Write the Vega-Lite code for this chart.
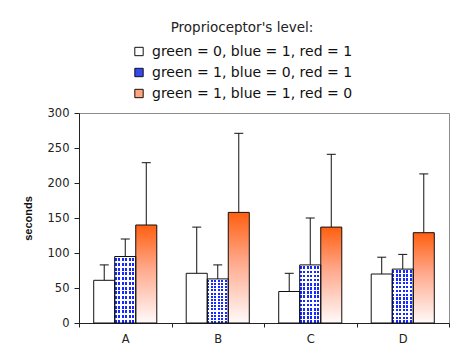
{
  "$schema": "https://vega.github.io/schema/vega-lite/v6.json",
  "width": 370,
  "height": 210,
  "autosize": "none",
  "padding": {"left": 79, "top": 113, "right": 6, "bottom": 21},
  "background": "white",
  "config": {
    "font": "DejaVu Sans",
    "view": {"stroke": "#8c8c8c", "strokeWidth": 1},
    "axis": {"domainColor": "#222222", "tickColor": "#222222", "labelColor": "#222222", "grid": false, "labelFont": "DejaVu Sans", "labelFontSize": 11.5},
    "axisY": {"tickCount": 6, "labelOverlap": false, "tickSize": 5, "labelPadding": 5,
              "titleFont": "Liberation Sans", "titleFontWeight": "bold", "titleFontSize": 11, "titlePadding": 14, "titleColor": "#111111"},
    "legend": {
      "orient": "none", "legendX": 53, "legendY": -92,
      "titleAnchor": "middle", "titleFont": "DejaVu Sans", "titleFontSize": 13.5, "titleFontWeight": "normal", "titleColor": "#222222", "titlePadding": 10,
      "labelFont": "DejaVu Sans", "labelFontSize": 14, "labelColor": "#111111", "labelLimit": 300, "labelOffset": 6,
      "symbolType": "square", "symbolSize": 70, "symbolStrokeColor": "#111111", "symbolStrokeWidth": 1, "symbolOpacity": 1,
      "rowPadding": 7, "padding": 0
    }
  },
  "data": {
    "values": [
      {"group": "A", "series": "green = 0, blue = 1, red = 1", "mean": 61, "upper": 83},
      {"group": "A", "series": "green = 1, blue = 0, red = 1", "mean": 95, "upper": 120},
      {"group": "A", "series": "green = 1, blue = 1, red = 0", "mean": 140, "upper": 229},
      {"group": "B", "series": "green = 0, blue = 1, red = 1", "mean": 71, "upper": 137},
      {"group": "B", "series": "green = 1, blue = 0, red = 1", "mean": 63, "upper": 83},
      {"group": "B", "series": "green = 1, blue = 1, red = 0", "mean": 158, "upper": 271},
      {"group": "C", "series": "green = 0, blue = 1, red = 1", "mean": 45, "upper": 71},
      {"group": "C", "series": "green = 1, blue = 0, red = 1", "mean": 83, "upper": 150},
      {"group": "C", "series": "green = 1, blue = 1, red = 0", "mean": 137, "upper": 241},
      {"group": "D", "series": "green = 0, blue = 1, red = 1", "mean": 70, "upper": 94},
      {"group": "D", "series": "green = 1, blue = 0, red = 1", "mean": 77, "upper": 98},
      {"group": "D", "series": "green = 1, blue = 1, red = 0", "mean": 129, "upper": 213}
    ]
  },
  "encoding": {
    "x": {"field": "group", "type": "nominal", "scale": {"paddingInner": 0, "paddingOuter": 0},
          "axis": {"title": null, "labelAngle": 0, "tickBand": "extent", "tickSize": 4, "labelPadding": 6}},
    "xOffset": {"field": "series", "type": "nominal",
                "scale": {"domain": ["green = 0, blue = 1, red = 1", "green = 1, blue = 0, red = 1", "green = 1, blue = 1, red = 0"], "paddingInner": 0, "paddingOuter": 0.7}}
  },
  "layer": [
    {
      "mark": {"type": "bar"},
      "encoding": {
        "y": {"field": "mean", "type": "quantitative", "title": "seconds",
              "scale": {"domain": [0, 300], "nice": false}},
        "fill": {"field": "series", "type": "nominal", "title": "Proprioceptor's level:",
                 "scale": {"domain": ["green = 0, blue = 1, red = 1", "green = 1, blue = 0, red = 1", "green = 1, blue = 1, red = 0"],
                           "range": ["#ffffff", "#3447f0", "#ffa47c"]}}
      }
    },
    {
      "transform": [{"filter": "datum.series === 'green = 1, blue = 0, red = 1'"}],
      "mark": {"type": "bar", "fill": {"gradient": "linear", "x1": 0, "y1": 0, "x2": 1, "y2": 0, "stops": [
        {"offset": 0, "color": "#1428ff"}, {"offset": 0.1, "color": "#1428ff"}, {"offset": 0.1, "color": "#ffffff"}, {"offset": 0.1667, "color": "#ffffff"},
        {"offset": 0.1667, "color": "#1428ff"}, {"offset": 0.2667, "color": "#1428ff"}, {"offset": 0.2667, "color": "#ffffff"}, {"offset": 0.3333, "color": "#ffffff"},
        {"offset": 0.3333, "color": "#1428ff"}, {"offset": 0.4333, "color": "#1428ff"}, {"offset": 0.4333, "color": "#ffffff"}, {"offset": 0.5, "color": "#ffffff"},
        {"offset": 0.5, "color": "#1428ff"}, {"offset": 0.6, "color": "#1428ff"}, {"offset": 0.6, "color": "#ffffff"}, {"offset": 0.6667, "color": "#ffffff"},
        {"offset": 0.6667, "color": "#1428ff"}, {"offset": 0.7667, "color": "#1428ff"}, {"offset": 0.7667, "color": "#ffffff"}, {"offset": 0.8333, "color": "#ffffff"},
        {"offset": 0.8333, "color": "#1428ff"}, {"offset": 0.9333, "color": "#1428ff"}, {"offset": 0.9333, "color": "#ffffff"}, {"offset": 1, "color": "#ffffff"}
      ]}},
      "encoding": {"y": {"field": "mean", "type": "quantitative", "title": "seconds"}}
    },
    {
      "transform": [{"filter": "datum.series === 'green = 1, blue = 0, red = 1'"}],
      "mark": {"type": "bar", "fill": {"gradient": "linear", "x1": 0, "y1": 0, "x2": 0, "y2": 1, "stops": [
        {"offset": 0, "color": "rgba(255,255,255,1)"}, {"offset": 0.025, "color": "rgba(255,255,255,1)"}, {"offset": 0.025, "color": "rgba(255,255,255,0)"}, {"offset": 0.0714, "color": "rgba(255,255,255,0)"},
        {"offset": 0.0714, "color": "rgba(255,255,255,1)"}, {"offset": 0.0964, "color": "rgba(255,255,255,1)"}, {"offset": 0.0964, "color": "rgba(255,255,255,0)"}, {"offset": 0.1429, "color": "rgba(255,255,255,0)"},
        {"offset": 0.1429, "color": "rgba(255,255,255,1)"}, {"offset": 0.1679, "color": "rgba(255,255,255,1)"}, {"offset": 0.1679, "color": "rgba(255,255,255,0)"}, {"offset": 0.2143, "color": "rgba(255,255,255,0)"},
        {"offset": 0.2143, "color": "rgba(255,255,255,1)"}, {"offset": 0.2393, "color": "rgba(255,255,255,1)"}, {"offset": 0.2393, "color": "rgba(255,255,255,0)"}, {"offset": 0.2857, "color": "rgba(255,255,255,0)"},
        {"offset": 0.2857, "color": "rgba(255,255,255,1)"}, {"offset": 0.3107, "color": "rgba(255,255,255,1)"}, {"offset": 0.3107, "color": "rgba(255,255,255,0)"}, {"offset": 0.3571, "color": "rgba(255,255,255,0)"},
        {"offset": 0.3571, "color": "rgba(255,255,255,1)"}, {"offset": 0.3821, "color": "rgba(255,255,255,1)"}, {"offset": 0.3821, "color": "rgba(255,255,255,0)"}, {"offset": 0.4286, "color": "rgba(255,255,255,0)"},
        {"offset": 0.4286, "color": "rgba(255,255,255,1)"}, {"offset": 0.4536, "color": "rgba(255,255,255,1)"}, {"offset": 0.4536, "color": "rgba(255,255,255,0)"}, {"offset": 0.5, "color": "rgba(255,255,255,0)"},
        {"offset": 0.5, "color": "rgba(255,255,255,1)"}, {"offset": 0.525, "color": "rgba(255,255,255,1)"}, {"offset": 0.525, "color": "rgba(255,255,255,0)"}, {"offset": 0.5714, "color": "rgba(255,255,255,0)"},
        {"offset": 0.5714, "color": "rgba(255,255,255,1)"}, {"offset": 0.5964, "color": "rgba(255,255,255,1)"}, {"offset": 0.5964, "color": "rgba(255,255,255,0)"}, {"offset": 0.6429, "color": "rgba(255,255,255,0)"},
        {"offset": 0.6429, "color": "rgba(255,255,255,1)"}, {"offset": 0.6679, "color": "rgba(255,255,255,1)"}, {"offset": 0.6679, "color": "rgba(255,255,255,0)"}, {"offset": 0.7143, "color": "rgba(255,255,255,0)"},
        {"offset": 0.7143, "color": "rgba(255,255,255,1)"}, {"offset": 0.7393, "color": "rgba(255,255,255,1)"}, {"offset": 0.7393, "color": "rgba(255,255,255,0)"}, {"offset": 0.7857, "color": "rgba(255,255,255,0)"},
        {"offset": 0.7857, "color": "rgba(255,255,255,1)"}, {"offset": 0.8107, "color": "rgba(255,255,255,1)"}, {"offset": 0.8107, "color": "rgba(255,255,255,0)"}, {"offset": 0.8571, "color": "rgba(255,255,255,0)"},
        {"offset": 0.8571, "color": "rgba(255,255,255,1)"}, {"offset": 0.8821, "color": "rgba(255,255,255,1)"}, {"offset": 0.8821, "color": "rgba(255,255,255,0)"}, {"offset": 0.9286, "color": "rgba(255,255,255,0)"},
        {"offset": 0.9286, "color": "rgba(255,255,255,1)"}, {"offset": 0.9536, "color": "rgba(255,255,255,1)"}, {"offset": 0.9536, "color": "rgba(255,255,255,0)"}, {"offset": 1, "color": "rgba(255,255,255,0)"}
      ]}},
      "encoding": {"y": {"field": "mean", "type": "quantitative", "title": "seconds"}}
    },
    {
      "transform": [{"filter": "datum.series === 'green = 1, blue = 1, red = 0'"}],
      "mark": {"type": "bar", "fill": {"gradient": "linear", "x1": 0, "y1": 0, "x2": 0, "y2": 1, "stops": [
        {"offset": 0, "color": "#ff5f10"}, {"offset": 0.45, "color": "#ffa98c"}, {"offset": 1, "color": "#fffafa"}
      ]}},
      "encoding": {"y": {"field": "mean", "type": "quantitative", "title": "seconds"}}
    },
    {
      "mark": {"type": "bar", "fillOpacity": 0, "stroke": "#111111", "strokeWidth": 1},
      "encoding": {"y": {"field": "mean", "type": "quantitative", "title": "seconds"}}
    },
    {
      "mark": {"type": "rule", "color": "#111111", "strokeWidth": 1},
      "encoding": {"y": {"field": "mean", "type": "quantitative", "title": "seconds"}, "y2": {"field": "upper"}}
    },
    {
      "mark": {"type": "tick", "color": "#111111", "thickness": 1, "size": 9, "opacity": 1, "orient": "horizontal"},
      "encoding": {"y": {"field": "upper", "type": "quantitative", "title": "seconds"}}
    }
  ]
}
